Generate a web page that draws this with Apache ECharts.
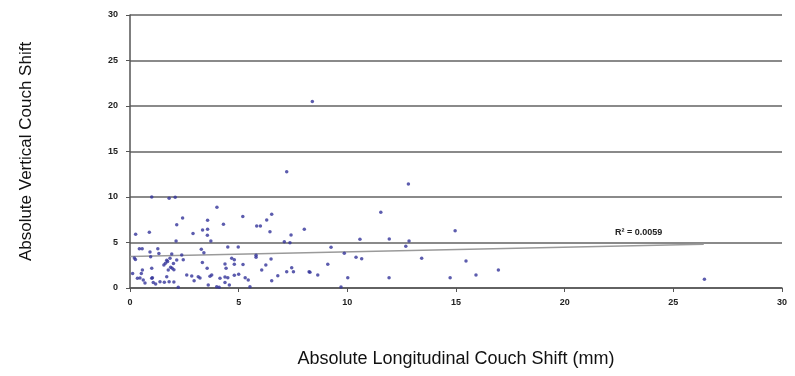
<!DOCTYPE html>
<html>
<head>
<meta charset="utf-8">
<script src="https://cdn.jsdelivr.net/npm/echarts@6/dist/echarts.min.js"></script>
<style>
  html, body { margin: 0; padding: 0; background: #fff; }
  #chart { width: 795px; height: 376px; }
</style>
</head>
<body>
<div id="chart"></div>
<script>
// tick labels
const xTicks = [0, 5, 10, 15, 20, 25, 30];
const yTicks = [0, 5, 10, 15, 20, 25, 30];

// couch shifts: [longitudinal, vertical]
const shifts = [
  [1.0, 10.0], [1.8, 9.85], [2.08, 9.97], [2.15, 6.95], [2.42, 7.7],
  [0.26, 5.9], [0.89, 6.12], [2.12, 5.16], [0.43, 4.3], [0.56, 4.3],
  [0.92, 3.95], [1.28, 4.3], [1.33, 3.8], [1.92, 3.74], [2.38, 3.63],
  [0.2, 3.3], [0.25, 3.12], [0.95, 3.44], [1.69, 3.06], [1.84, 3.26],
  [1.73, 2.9], [1.56, 2.52], [1.63, 2.72], [2.0, 2.7], [1.87, 2.27],
  [2.15, 3.08], [2.45, 3.1], [1.76, 1.98], [1.94, 2.16], [2.02, 2.0],
  [0.57, 1.98], [1.0, 2.16], [0.12, 1.58], [0.34, 1.06], [0.52, 1.6],
  [0.61, 0.88], [0.46, 1.1], [1.03, 1.13], [1.0, 1.06], [1.18, 0.44],
  [0.69, 0.55], [1.07, 0.6], [1.38, 0.7], [1.58, 0.62], [1.8, 0.7],
  [2.02, 0.65], [2.22, 0.07], [1.69, 1.24], [2.61, 1.43], [2.95, 0.8],
  [3.22, 1.1], [2.84, 1.32],
  [4.0, 8.88], [3.57, 7.45], [4.3, 7.0], [2.9, 6.0], [3.34, 6.37],
  [3.57, 6.45], [3.56, 5.8], [3.72, 5.16], [5.19, 7.85], [3.28, 4.25],
  [3.4, 3.88], [4.5, 4.5], [4.98, 4.5], [4.68, 3.26], [4.8, 3.1],
  [4.37, 2.64], [4.8, 2.62], [5.2, 2.58], [3.33, 2.8], [3.55, 2.16],
  [3.76, 1.43], [3.14, 1.24], [3.68, 1.3], [4.14, 1.06], [4.37, 1.2],
  [4.37, 0.6], [4.5, 1.13], [4.8, 1.4], [5.0, 1.5], [5.3, 1.13],
  [3.6, 0.33], [3.99, 0.15], [4.1, 0.08], [4.57, 0.33], [4.42, 2.16],
  [6.52, 8.1], [6.29, 7.47], [5.83, 6.8], [6.0, 6.8], [6.44, 6.19],
  [7.41, 5.82], [8.02, 6.45], [7.1, 5.09], [7.36, 4.98], [5.8, 3.6],
  [5.8, 3.37], [6.49, 3.19], [6.25, 2.53], [6.06, 1.98], [5.44, 0.88],
  [5.52, 0.15], [6.52, 0.8], [6.8, 1.35], [7.21, 1.79], [7.52, 1.79],
  [7.44, 2.23], [8.24, 1.79], [7.21, 12.78], [8.39, 20.5],
  [10.58, 5.35], [9.25, 4.47], [9.86, 3.81], [10.4, 3.37], [10.66, 3.22],
  [9.1, 2.6], [8.28, 1.72], [8.64, 1.43], [10.02, 1.13], [9.71, 0.11],
  [12.81, 11.43], [11.54, 8.32], [14.96, 6.3], [11.93, 5.38], [12.84, 5.16],
  [12.69, 4.58], [13.42, 3.26], [15.46, 2.97], [11.92, 1.13], [14.73, 1.13],
  [15.92, 1.43], [16.95, 1.98], [26.43, 0.95]
];

// linear trendline end points and its label
const trendPoints = [[0, 3.45], [26.4, 4.8]];
const rSquaredText = 'R² = 0.0059';

const chart = echarts.init(document.getElementById('chart'));

const axisFont = { fontFamily: 'Liberation Sans, Arial, sans-serif', fontSize: 9, fontWeight: 'bold', color: '#222' };

chart.setOption({
  animation: false,
  grid: { left: 130, right: 13, top: 15, bottom: 88 },
  xAxis: {
    type: 'value',
    min: xTicks[0],
    max: xTicks[xTicks.length - 1],
    interval: 5,
    name: 'Absolute Longitudinal Couch Shift (mm)',
    nameLocation: 'middle',
    nameGap: 62,
    nameTextStyle: { fontFamily: 'Liberation Sans, Arial, sans-serif', fontSize: 18, color: '#111' },
    axisLine: { lineStyle: { color: '#555', width: 1.5 } },
    axisTick: { show: true, length: 4, lineStyle: { color: '#555' } },
    axisLabel: Object.assign({ margin: 10 }, axisFont),
    splitLine: { show: false }
  },
  yAxis: {
    type: 'value',
    min: yTicks[0],
    max: yTicks[yTicks.length - 1],
    interval: 5,
    name: 'Absolute Vertical Couch Shift',
    nameLocation: 'middle',
    nameGap: 95,
    nameTextStyle: { fontFamily: 'Liberation Sans, Arial, sans-serif', fontSize: 17, color: '#111' },
    axisLine: { show: true, lineStyle: { color: '#555', width: 1.5 } },
    axisTick: { show: true, length: 4, lineStyle: { color: '#555' } },
    axisLabel: Object.assign({ margin: 12 }, axisFont),
    splitLine: { show: true, lineStyle: { color: '#8a8a8a', width: 2 } }
  },
  series: [
    {
      type: 'scatter',
      data: shifts,
      symbol: 'circle',
      symbolSize: 3.5,
      itemStyle: { color: '#33339a' },
      z: 3
    },
    {
      type: 'line',
      data: trendPoints,
      showSymbol: false,
      lineStyle: { color: '#9a9a9a', width: 1.5 },
      z: 2,
      markPoint: {
        symbol: 'circle',
        symbolSize: 0,
        data: [{ coord: [23.4, 6.1], value: rSquaredText }],
        label: {
          show: true,
          formatter: rSquaredText,
          fontFamily: 'Liberation Sans, Arial, sans-serif',
          fontSize: 9,
          fontWeight: 'bold',
          color: '#222'
        }
      }
    }
  ]
});
</script>
</body>
</html>
